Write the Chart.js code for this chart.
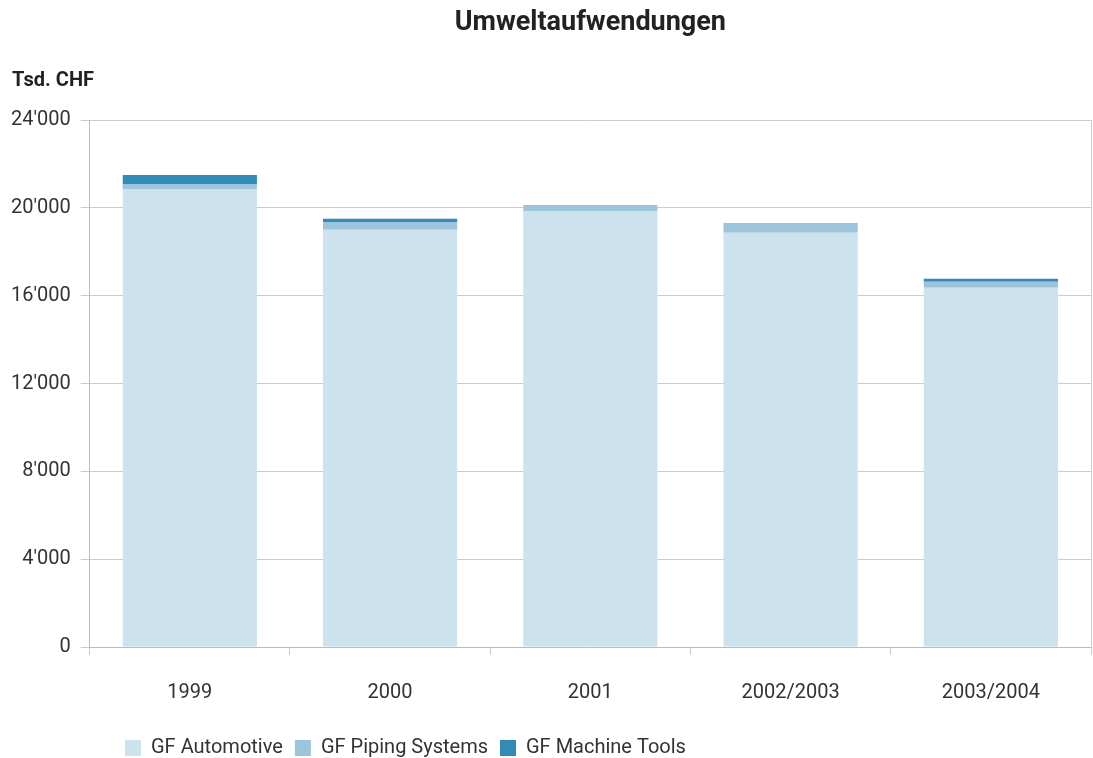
<!DOCTYPE html>
<html>
<head>
<meta charset="utf-8">
<script src="https://cdn.jsdelivr.net/npm/chart.js@4.4.1/dist/chart.umd.min.js"></script>
<style>
    html, body { margin: 0; padding: 0; background: #fff; }
    #wrap { width: 1093px; height: 758px; position: relative; }
</style>
</head>
<body>
<div id="wrap"><canvas id="envChart"></canvas></div>
<script>
const categories = ['1999', '2000', '2001', '2002/2003', '2003/2004'];
const automotive = [20860, 19000, 19860, 18860, 16360];
const piping = [230, 350, 270, 410, 270];
const machineTools = [410, 150, 0, 30, 140];

const fontFamily = 'Roboto, "DejaVu Sans", sans-serif';
const textColor = '#333333';

// title, unit label and right border drawn relative to the chart area
const decorPlugin = {
    id: 'decor',
    beforeDraw(chart) {
        // legend starts below the first bar, a bit lower than default
        chart.legend.left = 113;
        chart.legend.top = chart.height - 32;
    },
    afterDraw(chart) {
        const c = chart.ctx;
        const area = chart.chartArea;
        c.save();
        c.fillStyle = '#222';
        c.textBaseline = 'middle';
        c.font = 'bold 27px ' + fontFamily;
        c.textAlign = 'center';
        c.fillText('Umweltaufwendungen', (area.left + area.right) / 2, 23);
        c.font = 'bold 20px ' + fontFamily;
        c.textAlign = 'left';
        c.fillText('Tsd. CHF', 12, 81);
        c.strokeStyle = '#cccccc';
        c.lineWidth = 1;
        c.beginPath();
        c.moveTo(Math.round(area.right) + 0.5, area.top);
        c.lineTo(Math.round(area.right) + 0.5, area.bottom);
        c.stroke();
        c.restore();
    }
};

const ctx = document.getElementById('envChart').getContext('2d');

const chart = new Chart(ctx, {
    type: 'bar',
    data: {
        labels: categories,
        datasets: [
            {
                label: 'GF Automotive',
                data: automotive,
                backgroundColor: '#cce2ed'
            },
            {
                label: 'GF Piping Systems',
                data: piping,
                backgroundColor: '#9cc5dc'
            },
            {
                label: 'GF Machine Tools',
                data: machineTools,
                backgroundColor: '#328ab6'
            }
        ]
    },
    options: {
        responsive: true,
        maintainAspectRatio: false,
        animation: false,
        categoryPercentage: 1,
        barPercentage: 0.67,
        layout: {
            padding: { top: 120, right: 2, left: 1, bottom: -15 }
        },
        plugins: {
            legend: {
                position: 'bottom',
                align: 'start',
                labels: {
                    color: textColor,
                    font: { family: fontFamily, size: 20 },
                    boxWidth: 16,
                    boxHeight: 16,
                    padding: 12
                }
            },
            tooltip: { enabled: false }
        },
        scales: {
            x: {
                stacked: true,
                grid: {
                    offset: true,
                    drawOnChartArea: false,
                    tickLength: 8,
                    color: '#cccccc'
                },
                border: { color: '#bbbbbb' },
                ticks: {
                    color: textColor,
                    font: { family: fontFamily, size: 20 },
                    padding: 26
                }
            },
            y: {
                stacked: true,
                min: 0,
                max: 24000,
                grid: {
                    color: '#cccccc',
                    tickLength: 9
                },
                border: { color: '#bbbbbb' },
                ticks: {
                    stepSize: 4000,
                    color: textColor,
                    font: { family: fontFamily, size: 20 },
                    padding: 10,
                    callback: (v) => String(v).replace(/\B(?=(\d{3})+(?!\d))/g, "'")
                }
            }
        }
    },
    plugins: [decorPlugin]
});
</script>
</body>
</html>
